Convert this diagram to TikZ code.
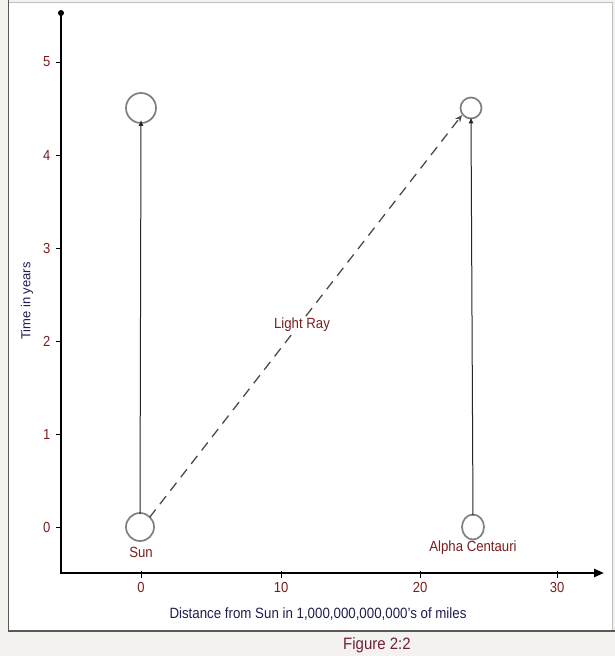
\documentclass[tikz,border=0pt]{standalone}
\usepackage{fontspec}
\setmainfont{Liberation Sans}
\usetikzlibrary{arrows.meta,shapes.geometric}
\definecolor{bg}{HTML}{F3F2EF}
\definecolor{tickred}{HTML}{7A1E1E}
\definecolor{navy}{HTML}{1E1E50}
\definecolor{figred}{HTML}{6E1E3C}
\definecolor{ringgray}{HTML}{808080}
\begin{document}
\begin{tikzpicture}[x=1pt,y=-1pt,
  axis/.style={line width=2.4pt,black},
  ring/.style={circle,draw=ringgray,line width=1.7pt,inner sep=0pt},
  path line/.style={line width=1pt,black!85,-{Latex[length=6pt,width=5pt]}},
  ray/.style={line width=1.3pt,black!70,dash pattern=on 10pt off 7pt,-{Stealth[open,length=7pt,width=6pt]}},
  ticklab/.style={font=\fontsize{13}{15}\selectfont,text=tickred,yscale=1.12},
  objlab/.style={font=\fontsize{13.2}{15}\selectfont,text=tickred,yscale=1.12},
  axislab/.style={font=\fontsize{13.3}{15}\selectfont,text=navy,yscale=1.12}]
\useasboundingbox (0,0) rectangle (615,656);
\fill[bg] (0,0) rectangle (615,656);
\fill[white] (8,2) rectangle (612,631);
\draw[black!25,line width=1pt] (8,2) -- (612,2) -- (612,631);
\draw[black!65,line width=1.4pt] (8.5,0) -- (8.5,631) -- (615,631);
% axes
\coordinate (ytop) at (61,13);
\coordinate (ybot) at (61,574);
\coordinate (xleft) at (60,573);
\coordinate (xright) at (604,573);
\draw[axis,-{Triangle[length=10pt,width=8pt]}] (xleft) -- (xright);
\draw[axis] (ybot) -- (ytop);
\fill (ytop) circle (3pt);
% y ticks
\foreach \v/\yy in {0/527,1/434,2/341,3/248,4/155,5/62}{
  \draw[line width=1pt] (56,\yy) -- (61,\yy);
  \node[ticklab,anchor=east] (yt\v) at (54,\yy) {\v};
}
% x ticks
\foreach \v/\xx in {0/141,10/281,20/420,30/557}{
  \draw[line width=1pt] (\xx,571) -- (\xx,578);
  \node[ticklab] (xt\v) at (\xx,587) {\v};
}
\node[axislab] (xlab) at (318,614) {Distance from Sun in 1,000,000,000,000's of miles};
\node[font=\fontsize{13}{15}\selectfont,text=navy,rotate=90] (ylab) at (27,301) {Time in years};
\node[font=\fontsize{15}{17}\selectfont,text=figred,yscale=1.1] (fig) at (377,645) {Figure 2:2};
% bodies
\node[ring,minimum size=28pt] (sun0) at (140,527) {};
\node[ring,minimum size=30pt] (sun1) at (141,108) {};
\node[ellipse,draw=ringgray,line width=1.7pt,inner sep=0pt,minimum width=22pt,minimum height=25pt] (ac0) at (473,527) {};
\node[ring,minimum size=21pt] (ac1) at (471,108) {};
\node[objlab] (sunlab) at (141,552) {Sun};
\node[objlab] (aclab) at (473,548) {Alpha Centauri};
% world lines
\draw[path line] ([yshift=-2pt]sun0.north) -- ([yshift=4pt]sun1.south);
\draw[path line] ([yshift=-2pt]ac0.north) -- ([yshift=2pt]ac1.south);
\draw[ray] ([shift={(-1pt,-1pt)}]sun0.north east) -- ([shift={(-1pt,1pt)}]ac1.south west);
\node[objlab,fill=white,inner sep=1pt] (ray) at (302,325) {Light Ray};
\end{tikzpicture}
\end{document}
